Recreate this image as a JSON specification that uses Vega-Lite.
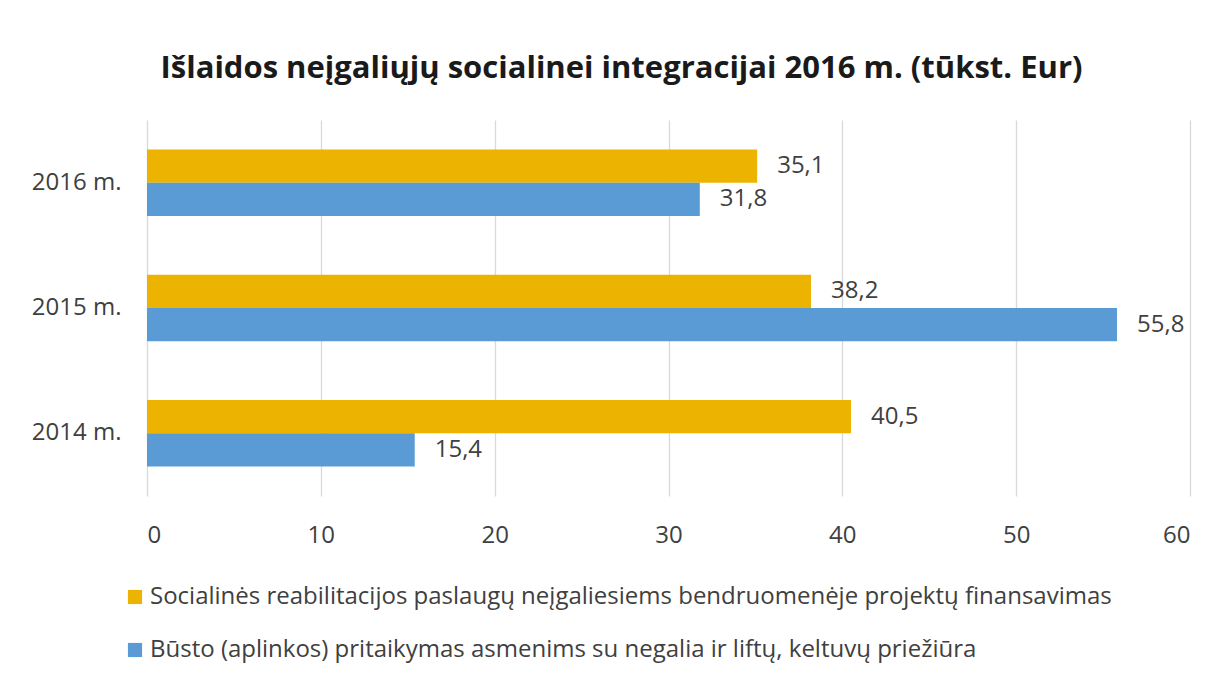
{
  "$schema": "https://vega.github.io/schema/vega-lite/v6.json",
  "autosize": "none",
  "width": 1043,
  "height": 376,
  "padding": {"left": 147, "top": 120, "right": 40, "bottom": 188},
  "background": "white",
  "config": {
    "font": "Open Sans",
    "view": {"stroke": null},
    "locale": {"number": {"decimal": ",", "thousands": " ", "grouping": [3], "currency": ["", " €"]}}
  },
  "title": {
    "text": "Išlaidos neįgaliųjų socialinei integracijai 2016 m. (tūkst. Eur)",
    "font": "Open Sans",
    "fontSize": 31,
    "fontWeight": "bold",
    "color": "#1a1a1a",
    "anchor": "middle",
    "dx": -47,
    "offset": 35
  },
  "data": {
    "values": [
      {"metai": "2016 m.", "serija": "Socialinės reabilitacijos paslaugų neįgaliesiems bendruomenėje projektų finansavimas", "reiksme": 35.1},
      {"metai": "2016 m.", "serija": "Būsto (aplinkos) pritaikymas asmenims su negalia ir liftų, keltuvų priežiūra", "reiksme": 31.8},
      {"metai": "2015 m.", "serija": "Socialinės reabilitacijos paslaugų neįgaliesiems bendruomenėje projektų finansavimas", "reiksme": 38.2},
      {"metai": "2015 m.", "serija": "Būsto (aplinkos) pritaikymas asmenims su negalia ir liftų, keltuvų priežiūra", "reiksme": 55.8},
      {"metai": "2014 m.", "serija": "Socialinės reabilitacijos paslaugų neįgaliesiems bendruomenėje projektų finansavimas", "reiksme": 40.5},
      {"metai": "2014 m.", "serija": "Būsto (aplinkos) pritaikymas asmenims su negalia ir liftų, keltuvų priežiūra", "reiksme": 15.4}
    ]
  },
  "encoding": {
    "y": {
      "field": "metai", "type": "nominal",
      "sort": ["2016 m.", "2015 m.", "2014 m."],
      "scale": {"paddingInner": 0.47, "paddingOuter": 0.235},
      "axis": {"title": null, "domain": false, "ticks": false, "labelPadding": 26, "labelFontSize": 24, "labelColor": "#404040", "labelFont": "Open Sans"}
    },
    "yOffset": {
      "field": "serija", "type": "nominal",
      "sort": ["Socialinės reabilitacijos paslaugų neįgaliesiems bendruomenėje projektų finansavimas", "Būsto (aplinkos) pritaikymas asmenims su negalia ir liftų, keltuvų priežiūra"]
    },
    "x": {
      "field": "reiksme", "type": "quantitative",
      "scale": {"domain": [0, 60], "nice": false},
      "axis": {"title": null, "values": [0, 10, 20, 30, 40, 50, 60], "domain": false, "ticks": false, "grid": true, "gridColor": "#d9d9d9", "gridWidth": 1.3, "labelPadding": 27, "labelFontSize": 24, "labelColor": "#404040", "labelFont": "Open Sans"}
    }
  },
  "layer": [
    {
      "mark": {"type": "bar"},
      "encoding": {
        "color": {
          "field": "serija", "type": "nominal",
          "sort": ["Socialinės reabilitacijos paslaugų neįgaliesiems bendruomenėje projektų finansavimas", "Būsto (aplinkos) pritaikymas asmenims su negalia ir liftų, keltuvų priežiūra"],
          "scale": {"range": ["#ECB400", "#5B9BD5"]},
          "legend": {
            "title": null,
            "orient": "none",
            "legendX": -24,
            "legendY": 465,
            "direction": "vertical",
            "symbolType": "square",
            "symbolSize": 200,
            "symbolStrokeWidth": 0,
            "labelFontSize": 24,
            "labelFont": "Open Sans",
            "labelColor": "#404040",
            "labelLimit": 1200,
            "labelOffset": 3,
            "rowPadding": 29
          }
        }
      }
    },
    {
      "mark": {"type": "text", "align": "left", "baseline": "middle", "dx": 20, "fontSize": 24, "font": "Open Sans", "color": "#404040"},
      "encoding": {
        "text": {"field": "reiksme", "type": "quantitative", "format": ".1f"}
      }
    }
  ]
}
